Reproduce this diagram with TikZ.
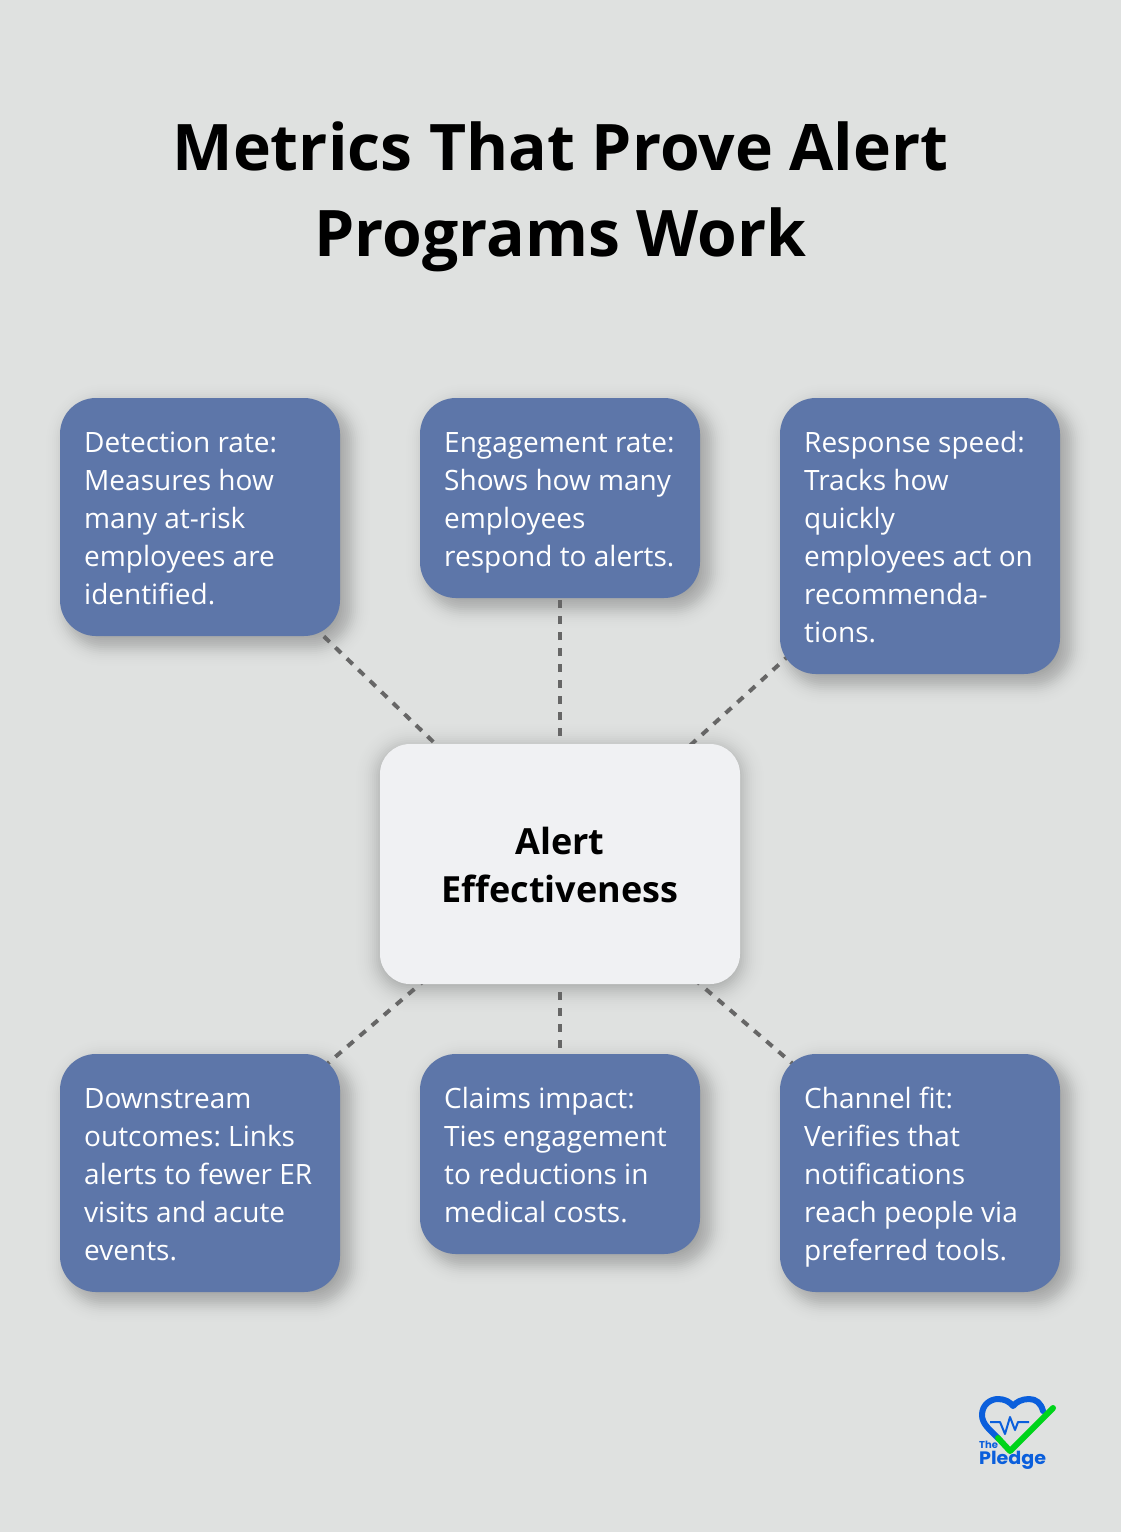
\documentclass[tikz,border=0pt]{standalone}
\usepackage{fontspec}
\usetikzlibrary{backgrounds}
\setmainfont{Open Sans}
\newfontfamily\logofont{Poppins}
\frenchspacing
\definecolor{pagebg}{HTML}{DFE1E0}
\definecolor{boxblue}{HTML}{5D76A9}
\definecolor{corebox}{HTML}{F0F1F3}
\definecolor{linkgrey}{HTML}{666666}
\definecolor{logoblue}{HTML}{0B5FDC}
\definecolor{logogreen}{HTML}{00D41A}
\tikzset{
  x=1pt,y=-1pt,
  bluebox/.style={fill=boxblue,rounded corners=36pt,minimum width=280pt,inner sep=0pt,outer sep=0pt,text=white,anchor=north west},
  bluetext/.style={text=white,font=\fontsize{28}{38}\selectfont,align=left,anchor=north west,inner sep=0pt,execute at begin node={\rule{0pt}{30pt}}},
  corenode/.style={fill=corebox,rounded corners=30pt,minimum width=360pt,minimum height=240pt,inner sep=0pt,outer sep=0pt,align=center,font=\fontsize{36}{48}\selectfont\bfseries},
  link/.style={draw=linkgrey,line width=4pt,dash pattern=on 8pt off 8pt},
}
% x0 y0 x1 y1 radius dx dy spread peak
\newcommand{\softshadow}[9]{%
  \foreach \k in {-30,-28,...,30}{
    \pgfmathsetmacro{\op}{#9*exp(-(\k/#8)*(\k/#8))}
    \pgfmathsetmacro{\rr}{max(#5+\k,2)}
    \fill[black,opacity=\op,rounded corners=\rr pt]
      ({#1+#6-\k},{#2+#7-\k}) rectangle ({#3+#6+\k},{#4+#7+\k});
  }
}
\begin{document}
\begin{tikzpicture}
\useasboundingbox (0,0) rectangle (1120,1532);
\node[font=\fontsize{64.2}{86}\selectfont\bfseries,align=center,anchor=center] (title) at (560.5,197) {Metrics That Prove Alert\\Programs Work};
\node[bluebox,minimum height=238pt] (a) at (60,398) {};
\node[bluebox,minimum height=200pt] (b) at (420,398) {};
\node[bluebox,minimum height=276pt] (c) at (780,398) {};
\node[bluebox,minimum height=238pt] (d) at (60,1054) {};
\node[bluebox,minimum height=200pt] (e) at (420,1054) {};
\node[bluebox,minimum height=238pt] (f) at (780,1054) {};
\node[corenode] (core) at (560,864) {\rule{0pt}{29pt}Alert\\Effectiveness};
\node[bluetext] (ta) at (84,432) {Detection rate:\\Measures how\\many at-risk\\employees are\\identified.};
\node[bluetext] (tb) at (444,432) {Engagement rate:\\Shows how many\\employees\\respond to alerts.};
\node[bluetext] (tc) at (804,431) {Response speed:\\Tracks how\\quickly\\employees act on\\recommenda-\\tions.};
\node[bluetext] (td) at (84,1088) {Downstream\\outcomes: Links\\alerts to fewer ER\\visits and acute\\events.};
\node[bluetext] (te) at (444,1087) {Claims impact:\\Ties engagement\\to reductions in\\medical costs.};
\node[bluetext] (tf) at (804,1087) {Channel fit:\\Verifies that\\notifications\\reach people via\\preferred tools.};
\begin{scope}[on background layer]
\fill[pagebg] (-3,-3) rectangle (1123,1535);
\softshadow{60}{398}{340}{636}{36}{8}{8}{14}{0.025}
\softshadow{420}{398}{700}{598}{36}{8}{8}{14}{0.025}
\softshadow{780}{398}{1060}{674}{36}{8}{8}{14}{0.025}
\softshadow{60}{1054}{340}{1292}{36}{8}{8}{14}{0.025}
\softshadow{420}{1054}{700}{1254}{36}{8}{8}{14}{0.025}
\softshadow{780}{1054}{1060}{1292}{36}{8}{8}{14}{0.025}
\softshadow{380}{744}{740}{984}{30}{0}{4}{16}{0.02}
\draw[link] (core.center) -- (a.center);
\draw[link] (core.center) -- (b.center);
\draw[link] (core.center) -- (c.center);
\draw[link] (core.center) -- (d.center);
\draw[link] (core.center) -- (e.center);
\draw[link] (core.center) -- (f.center);
\end{scope}
% logo
\draw[logoblue,line width=6pt,line cap=round,line join=round]
  (998,1438) .. controls (990,1430) and (982,1424) .. (982,1415)
  .. controls (982,1405) and (990,1399) .. (998,1399)
  .. controls (1005,1399) and (1010,1402) .. (1013,1406)
  .. controls (1016,1402) and (1022,1399) .. (1029,1399)
  .. controls (1036,1399) and (1041,1403) .. (1043,1411);
\draw[logoblue,line width=2pt,line join=round]
  (990,1422) -- (1000,1422) -- (1005,1434) -- (1010,1417) -- (1015,1430) -- (1018,1422) -- (1029,1422);
\draw[logogreen,line width=6pt,line cap=round,line join=round]
  (998,1438) -- (1010,1451) -- (1053,1408);
\node[logoblue,font=\logofont\bfseries\fontsize{10}{10}\selectfont,anchor=base west,inner sep=0pt] (lthe) at (979,1448) {The};
\node[logoblue,font=\logofont\bfseries\fontsize{18}{18}\selectfont,anchor=base west,inner sep=0pt] (lpl) at (979,1464) {\scalebox{1.06}[1]{Pledge}};
\end{tikzpicture}
\end{document}
